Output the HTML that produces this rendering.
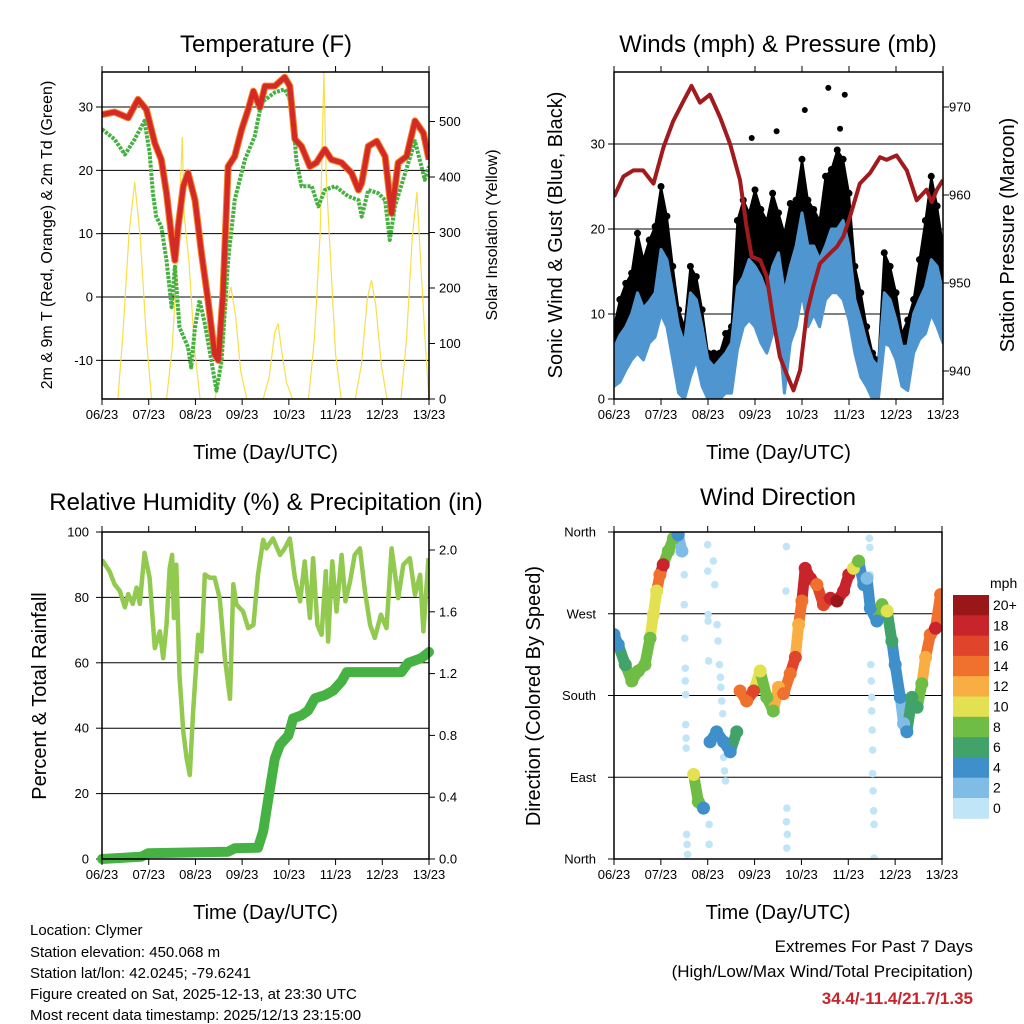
<!DOCTYPE html>
<html><head><meta charset="utf-8"><style>
html,body{margin:0;padding:0;background:#fff;}
svg{display:block;font-family:"Liberation Sans",sans-serif;}
</style></head><body>
<svg id="chart" width="1024" height="1024" viewBox="0 0 1024 1024" xmlns="http://www.w3.org/2000/svg">
<defs>
<clipPath id="c1"><rect x="102" y="72" width="327" height="327"/></clipPath>
<clipPath id="c2"><rect x="614" y="72" width="329" height="327"/></clipPath>
<clipPath id="c3"><rect x="102" y="532" width="327" height="327"/></clipPath>
<clipPath id="c4"><rect x="614" y="532" width="328" height="327"/></clipPath>
</defs>
<g id="g1"></g>
<g id="g2"></g>
<g id="g3"></g>
<g id="g4"></g>
<g font-size="15" fill="#000">
<text x="30" y="935">Location: Clymer</text>
<text x="30" y="957">Station elevation: 450.068 m</text>
<text x="30" y="978">Station lat/lon: 42.0245; -79.6241</text>
<text x="30" y="999">Figure created on Sat, 2025-12-13, at 23:30 UTC</text>
<text x="30" y="1020">Most recent data timestamp: 2025/12/13 23:15:00</text>
</g>
<g text-anchor="end">
<text x="973" y="952" font-size="17">Extremes For Past 7 Days</text>
<text x="973" y="977" font-size="17">(High/Low/Max Wind/Total Precipitation)</text>
<text x="973" y="1004" font-size="17" font-weight="bold" fill="#c8242b">34.4/-11.4/21.7/1.35</text>
</g>
</svg>
<script>
// ---------- data ----------
const dayLabels = ["06/23","07/23","08/23","09/23","10/23","11/23","12/23","13/23"];
const tempTicks = [-10,0,10,20,30];
const solarTicks = [0,100,200,300,400,500];
const windTicks = [0,10,20,30];
const presTicks = [940,950,960,970];
const rhTicks = [0,20,40,60,80,100];
const precipTicks = [0.0,0.4,0.8,1.2,1.6,2.0];
const dirLabels = ["North","East","South","West","North"];
const dirTicks = [0,90,180,270,360];
const speedLabels = ["0","2","4","6","8","10","12","14","16","18","20+"];
const speedColors = ["#bfe5f7","#7fbde6","#3f8fcb","#41a36a","#6fbd44","#e3e051","#f9ae43","#f0712e","#e0442a","#c8242b","#9a1719"];

const tempT = [0,0.27,0.56,0.77,0.95,1.13,1.27,1.38,1.49,1.56,1.63,1.74,1.84,1.99,2.13,2.27,2.41,2.49,2.59,2.70,2.84,2.99,3.13,3.24,3.38,3.49,3.70,3.91,4.02,4.13,4.27,4.45,4.59,4.77,4.91,5.13,5.34,5.49,5.56,5.70,5.88,6.06,6.20,6.34,6.52,6.70,6.88,7.0];
const tempV = [28.8,29.2,28.3,31.2,29.6,24.3,21.7,16.4,9.5,5.8,11,17.5,19.6,15.3,6.9,-0.5,-9,-10,0.5,20.6,22.2,26.5,29.6,32.5,29.9,33.3,33.3,34.7,33.3,24.9,23.8,20.6,21.2,23.3,21.7,21.2,19.6,16.9,18,23.8,24.6,22.2,13.2,21.2,22.2,27.8,25.9,21.7];
const dewT = [0,0.27,0.49,0.70,0.91,1.02,1.09,1.16,1.27,1.38,1.49,1.56,1.66,1.84,1.91,1.99,2.09,2.2,2.34,2.45,2.56,2.7,2.84,3.06,3.27,3.41,3.7,3.91,4.06,4.16,4.27,4.49,4.63,4.77,4.99,5.27,5.49,5.56,5.7,5.91,6.06,6.16,6.27,6.49,6.7,6.91,7.0];
const dewV = [26.5,24.9,22.5,24.9,27.8,22.8,16.4,12.7,11.1,5.8,-1.6,4.8,-4.8,-7.9,-11.1,-4.8,-0.5,-4.2,-10,-14.8,-10,5.8,15.3,21.7,25.4,30.7,32.3,32.8,30.7,21.7,17.5,17.5,14.3,16.9,17.5,15.9,15.3,12.7,16.9,16.4,15.3,9,14.3,19.6,24.6,18.5,20.6];
const solarT = [0,0.34,0.45,0.58,0.70,0.82,0.95,1.06,1.38,1.50,1.62,1.72,1.76,1.86,1.98,2.10,2.42,2.55,2.66,2.76,2.86,2.97,3.10,3.45,3.58,3.70,3.77,3.84,3.95,4.08,4.42,4.55,4.67,4.75,4.80,4.90,5.00,5.12,5.42,5.55,5.68,5.77,5.86,5.98,6.10,6.40,6.52,6.64,6.74,6.82,6.92,7.0];
const solarV = [0,0,120,300,391,290,110,0,0,90,260,472,330,250,90,0,0,60,170,202,150,50,0,0,40,120,136,90,30,0,0,110,300,589,400,240,80,0,0,60,180,214,170,60,0,0,110,290,373,250,100,0];

const windLo = [1.5,2,3.4,4.6,5.4,4.6,6.6,7.3,10,8.5,4.6,0.7,0,2.6,4.6,1.5,0,0,0,0.7,0.7,5.8,8.5,9.3,8.5,6.6,5.4,7.7,8.5,0.7,6.6,8.5,12.5,8.5,10,8.5,11.7,12.5,12.5,11.7,9.3,5.4,2.6,1.5,0,0,6.6,6.2,4.6,1.5,1,5.4,7,7.7,10,8.5,6.6];
const windHi = [6,7.5,8.5,10,12.5,10.7,11.5,12.5,17.6,16.4,12.5,8.5,6.5,12.5,11.7,8.5,4.6,3.8,4.6,5.4,6.6,13.2,14.4,16.4,15.6,14.4,12.5,15.6,17.2,12.5,15.6,18,21.9,18,18,16.4,18,20,20,21,18,11.7,9.3,6.6,4.6,3.8,12.5,11.7,9.3,6.2,6.2,10,11.7,13.2,16.4,15.6,12.5];
const gustHi = [8.5,11.7,13.6,14.8,19.5,16.4,18.7,20.3,25,21.5,15.6,10.5,8.5,15.6,14.4,10.5,5.4,5.4,5.4,7.7,8.5,21,23.4,21.9,24.6,22.3,21,24.2,21.9,19.5,23,23.4,28.2,23.4,22.3,21,26.2,27,29.3,28.2,24.2,15.6,12.5,8.5,5.4,4.6,17.2,15.6,12.5,7.7,9.3,11.7,16.4,21,26.2,22.7,18];
const gustOutT = [2.93,3.46,4.06,4.56,4.91,4.81];
const gustOutV = [30.7,31.5,34,36.6,35.8,31.8];
const presT = [0,0.2,0.41,0.62,0.84,1.05,1.26,1.48,1.65,1.83,2.04,2.26,2.47,2.68,2.82,2.93,3.11,3.25,3.39,3.53,3.67,3.82,3.96,4.1,4.24,4.38,4.6,4.74,4.88,5.02,5.23,5.45,5.66,5.8,6.01,6.23,6.44,6.65,6.76,6.87,7.0];
const presV = [959.8,962.1,962.8,962.8,961.3,965.4,968.4,970.7,972.4,970.5,971.4,968.8,965.8,961.7,956.4,953,952.6,950.7,945.8,941.6,939.7,937.8,940.1,946.5,949.6,952.2,953.4,954.1,955.3,957.5,961.3,962.5,964.3,964,964.5,962.8,959.4,960.6,959.2,960.6,961.7];

const rhT = [0,0.16,0.27,0.38,0.49,0.56,0.66,0.74,0.81,0.91,1.02,1.13,1.24,1.31,1.38,1.45,1.5,1.54,1.59,1.66,1.74,1.81,1.88,1.95,2.06,2.13,2.2,2.31,2.41,2.52,2.63,2.74,2.81,2.88,3.02,3.13,3.24,3.34,3.45,3.52,3.66,3.81,3.91,4.02,4.13,4.24,4.34,4.45,4.52,4.61,4.7,4.79,4.84,4.93,5.02,5.13,5.21,5.31,5.41,5.52,5.63,5.74,5.84,5.97,6.09,6.2,6.34,6.45,6.59,6.7,6.81,6.88,6.99];
const rhV = [91.5,88,84,82,77,81,78,83,78,93.6,86,64.5,69.6,61.4,71.6,89,93,73.7,90,56,39,30.8,25.7,45,68.6,63.5,87,86,86,79.8,61.4,49,84,77.8,75.7,70.6,71.6,87,97.6,95,98,93,95,98,86,78.8,91,73.7,92,71.6,68.6,88,66.5,91,75.7,93,78.8,84.9,93,95,81.8,71.6,67.6,74.7,70.6,95,79.8,90,92,80.8,86.9,69.6,92];
const prT = [0,0.84,0.99,2.7,2.84,3.34,3.45,3.56,3.7,3.81,3.99,4.09,4.27,4.41,4.56,4.77,4.95,5.13,5.24,5.56,6.41,6.56,6.84,7.0];
const prV = [0,0.015,0.037,0.047,0.069,0.073,0.18,0.39,0.65,0.74,0.80,0.91,0.93,0.96,1.04,1.06,1.09,1.15,1.21,1.21,1.21,1.27,1.30,1.34];

const dirT = [0,0.09,0.24,0.38,0.52,0.66,0.77,0.84,0.91,0.98,1.05,1.16,1.27,1.37,1.45,1.7,1.8,1.91,2.05,2.19,2.34,2.48,2.62,2.69,2.83,2.98,3.12,3.26,3.4,3.51,3.62,3.76,3.87,3.94,4.01,4.08,4.19,4.33,4.47,4.62,4.76,4.9,5.01,5.11,5.22,5.33,5.4,5.47,5.61,5.72,5.83,5.93,6.0,6.11,6.18,6.25,6.36,6.47,6.57,6.65,6.75,6.86,6.97];
const dirV = [247,236,214,196,207,214,243,269,295,313,324,339,353,357,339,93,63,56,129,140,129,118,140,185,174,185,207,178,163,189,182,204,222,258,284,320,309,302,280,287,284,295,313,320,328,302,309,276,262,280,273,240,214,178,149,140,178,167,193,222,247,254,291];
const dirS = [4,4,6,7,8,8,8,9,10,13,18,8,7,3,2,9,7,4,3,3,3,3,5,13,14,16,9,8,7,12,14,14,16,12,13,18,18,14,16,18,20,17,17,10,8,3,2,4,4,8,9,5,4,4,2,3,6,6,8,12,14,18,14];
const dirSeg = [0,0,0,0,0,0,0,0,0,0,0,0,0,0,0,1,1,1,2,2,2,2,2,3,3,3,3,3,3,3,3,3,3,3,3,3,3,3,3,3,3,3,3,3,3,3,3,3,3,3,3,3,3,3,3,3,3,3,3,3,3,3,3];
const calmT = [1.5,1.5,1.51,1.52,1.52,1.53,1.53,1.54,1.54,1.55,1.56,1.57,2.0,2.0,2.01,2.01,2.02,2.03,2.03,2.12,2.15,2.2,2.22,2.25,2.27,2.28,2.3,2.32,2.34,2.36,2.38,3.68,3.67,3.69,3.68,3.7,3.69,5.45,5.46,5.47,5.48,5.49,5.5,5.5,5.51,5.52,5.52,5.53,5.54,5.55,5.55];
const calmV = [313,280,243,210,196,181,148,133,122,27,16,5,346,317,269,262,218,38,16,328,302,258,240,214,200,189,174,160,112,97,86,344,295,56,41,27,12,353,343,313,214,196,178,163,142,120,94,75,53,38,1];

// ---------- helpers ----------
const NS = "http://www.w3.org/2000/svg";
function mk(parent, tag, attrs, text) {
  const e = document.createElementNS(NS, tag);
  for (const k in attrs) e.setAttribute(k, attrs[k]);
  if (text !== undefined) e.textContent = text;
  parent.appendChild(e);
  return e;
}
function xScale(x0, x1) { return t => x0 + (x1 - x0) * t / 7; }
function lin(d0, d1, r0, r1) { return v => r0 + (v - d0) * (r1 - r0) / (d1 - d0); }
function pathD(ts, vs, xs, ys) { return ts.map((t, i) => (i ? "L" : "M") + xs(t).toFixed(1) + "," + ys(vs[i]).toFixed(1)).join(""); }

function frame(g, x0, y0, x1, y1, xs) {
  const b = mk(g, "rect", {x: x0, y: y0, width: x1 - x0, height: y1 - y0, fill: "none", stroke: "#000", "stroke-width": 1.5});
  
  
  dayLabels.forEach((lab, i) => {
    const x = xs(i);
    mk(g, "line", {x1: x, x2: x, y1: y1, y2: y1 + 6, stroke: "#000"});
    mk(g, "line", {x1: x, x2: x, y1: y0, y2: y0 - 6, stroke: "#000"});
    const t = mk(g, "text", {x: x, y: y1 + 20, "text-anchor": "middle", "font-size": 13}, lab);
    
    
  });
  const xl = mk(g, "text", {x: (x0 + x1) / 2, y: y1 + 60, "text-anchor": "middle", "font-size": 20}, "Time (Day/UTC)");
  
  
}
function leftTicks(g, ticks, ys, x0, x1, labelX, grid, fmt) {
  ticks.forEach(v => {
    const y = ys(v);
    mk(g, "line", {x1: x0 - 6, x2: x0, y1: y, y2: y, stroke: "#000"});
    if (grid) mk(g, "line", {x1: x0, x2: x1, y1: y, y2: y, stroke: "#000", "stroke-width": 1});
    const t = mk(g, "text", {x: labelX, y: y + 4.5, "text-anchor": "end", "font-size": 13}, fmt ? fmt(v) : v);
    
    
  });
}
function rightTicks(g, ticks, ys, x1, labelX, fmt) {
  ticks.forEach(v => {
    const y = ys(v);
    mk(g, "line", {x1: x1, x2: x1 + 6, y1: y, y2: y, stroke: "#000"});
    const t = mk(g, "text", {x: labelX, y: y + 4.5, "font-size": 13}, fmt ? fmt(v) : v);
    
    
  });
}
function title(g, x, y, txt, size) {
  const t = mk(g, "text", {x: x, y: y, "text-anchor": "middle", "font-size": size || 24}, txt);
  
  
}
function vlabel(g, x, y, txt, size, name) {
  const t = mk(g, "text", {x: x, y: y, "text-anchor": "middle", "font-size": size, transform: "rotate(-90 " + x + " " + y + ")"}, txt);
  
  
}

// ---------- panel 1: temperature ----------
(function () {
  const g = document.getElementById("g1");
  const xs = xScale(102, 429), ty = lin(0, 30, 297, 107), sy = lin(0, 500, 399, 121.5);
  title(g, 266, 52, "Temperature (F)");
  vlabel(g, 52, 235, "2m & 9m T (Red, Orange) & 2m Td (Green)", 16, "left-y-axis-title");
  vlabel(g, 497, 235, "Solar Insolation (Yellow)", 16, "right-y-axis-title");
  leftTicks(g, tempTicks, ty, 102, 429, 93, true);
  rightTicks(g, solarTicks, sy, 429, 439);
  const c = mk(g, "g", {"clip-path": "url(#c1)"});
  const s = mk(c, "path", {d: pathD(solarT, solarV, xs, sy), fill: "none", stroke: "#f7df4a", "stroke-width": 1.2});
  
  
  const o = mk(c, "path", {d: pathD(tempT, tempV, xs, ty), fill: "none", stroke: "#f4802a", "stroke-width": 7, "stroke-linejoin": "round"});
  
  
  const d = mk(c, "path", {d: pathD(dewT, dewV, xs, ty), fill: "none", stroke: "#46b040", "stroke-width": 4, "stroke-dasharray": "3 1.2", "stroke-linejoin": "round"});
  
  
  const r = mk(c, "path", {d: pathD(tempT, tempV, xs, ty), fill: "none", stroke: "#d42a25", "stroke-width": 5, "stroke-linejoin": "round"});
  
  
  frame(g, 102, 72, 429, 399, xs);
})();

// ---------- panel 2: winds & pressure ----------
(function () {
  const g = document.getElementById("g2");
  const xs = xScale(614, 943), wy = lin(0, 10, 399, 314), py = lin(940, 950, 371, 283);
  title(g, 778, 52, "Winds (mph) & Pressure (mb)");
  vlabel(g, 562, 235, "Sonic Wind & Gust (Blue, Black)", 20, "left-y-axis-title");
  vlabel(g, 1014, 235, "Station Pressure (Maroon)", 20, "right-y-axis-title");
  leftTicks(g, windTicks, wy, 614, 943, 605, true);
  rightTicks(g, presTicks, py, 943, 949);
  const c = mk(g, "g", {"clip-path": "url(#c2)"});
  const wt = windLo.map((v, i) => i / 8);
  let gd = "M" + wt.map((t, i) => xs(t).toFixed(1) + "," + wy(gustHi[i]).toFixed(1)).join("L");
  gd += "L" + wt.slice().reverse().map((t, j) => { const i = wt.length - 1 - j; return xs(t).toFixed(1) + "," + wy(windLo[i]).toFixed(1); }).join("L") + "Z";
  const gb = mk(c, "path", {d: gd, fill: "#000", stroke: "#000", "stroke-width": 2, "stroke-linejoin": "round"});
  
  
  wt.forEach((t, i) => {
    const dot = mk(c, "circle", {cx: xs(t), cy: wy(gustHi[i]), r: 3.5, fill: "#000"});
    
    
  });
  gustOutT.forEach((t, i) => {
    const dot = mk(c, "circle", {cx: xs(t), cy: wy(gustOutV[i]), r: 3, fill: "#000"});
    
    
  });
  let bd = "M" + wt.map((t, i) => xs(t).toFixed(1) + "," + wy(windHi[i]).toFixed(1)).join("L");
  bd += "L" + wt.slice().reverse().map((t, j) => { const i = wt.length - 1 - j; return xs(t).toFixed(1) + "," + wy(windLo[i]).toFixed(1); }).join("L") + "Z";
  const bb = mk(c, "path", {d: bd, fill: "#4f95d0", stroke: "#4f95d0", "stroke-width": 3, "stroke-linejoin": "round"});
  
  
  const p = mk(c, "path", {d: pathD(presT, presV, xs, py), fill: "none", stroke: "#a01a1e", "stroke-width": 4, "stroke-linejoin": "round"});
  
  
  frame(g, 614, 72, 943, 399, xs);
})();

// ---------- panel 3: RH & precip ----------
(function () {
  const g = document.getElementById("g3");
  const xs = xScale(102, 429), ry = lin(0, 100, 859, 532), qy = lin(0, 2, 859, 550);
  title(g, 266, 510, "Relative Humidity (%) & Precipitation (in)");
  vlabel(g, 46, 696, "Percent & Total Rainfall", 20, "left-y-axis-title");
  leftTicks(g, rhTicks, ry, 102, 429, 89, true);
  rightTicks(g, precipTicks, qy, 429, 439, v => v.toFixed(1));
  const c = mk(g, "g", {"clip-path": "url(#c3)"});
  const rh = mk(c, "path", {d: pathD(rhT, rhV, xs, ry), fill: "none", stroke: "#92c94f", "stroke-width": 4.5, "stroke-linejoin": "round"});
  
  
  const pr = mk(g, "path", {d: pathD(prT, prV, xs, qy), fill: "none", stroke: "#47b244", "stroke-width": 10, "stroke-linejoin": "round", "stroke-linecap": "round"});
  
  
  frame(g, 102, 532, 429, 859, xs);
})();

// ---------- panel 4: wind direction ----------
(function () {
  const g = document.getElementById("g4");
  const xs = xScale(614, 942), dy = lin(0, 360, 859, 532);
  const col = s => speedColors[Math.min(10, Math.max(0, Math.round(s / 2)))];
  title(g, 778, 505, "Wind Direction");
  vlabel(g, 540, 696, "Direction (Colored By Speed)", 20, "left-y-axis-title");
  dirTicks.forEach((v, i) => {
    const y = dy(v);
    mk(g, "line", {x1: 608, x2: 614, y1: y, y2: y, stroke: "#000"});
    if (i > 0 && i < 4) mk(g, "line", {x1: 614, x2: 942, y1: y, y2: y, stroke: "#000"});
    const t = mk(g, "text", {x: 596, y: y + 4.5, "text-anchor": "end", "font-size": 13}, dirLabels[i]);
    
    
  });
  const c = mk(g, "g", {"clip-path": "url(#c4)"});
  calmT.forEach((t, i) => {
    const p = mk(c, "circle", {cx: xs(t), cy: dy(calmV[i]), r: 3.8, fill: speedColors[0]});
    
    
  });
  dirT.forEach((t, i) => {
    if (i > 0 && dirSeg[i] === dirSeg[i - 1]) {
      const l = mk(c, "line", {x1: xs(dirT[i - 1]), y1: dy(dirV[i - 1]), x2: xs(t), y2: dy(dirV[i]), stroke: col(dirS[i]), "stroke-width": 11, "stroke-linecap": "round"});
      
      
    }
  });
  dirT.forEach((t, i) => {
    const p = mk(c, "circle", {cx: xs(t), cy: dy(dirV[i]), r: 6.5, fill: col(dirS[i])});
    
    
  });
  frame(g, 614, 532, 942, 859, xs);
  const lg = mk(g, "g", {});
  
  
  const mt = mk(lg, "text", {x: 990, y: 588, "font-size": 14}, "mph");
  
  
  const top = 595, h = 20.3;
  speedLabels.forEach((lab, j) => {
    const k = speedLabels.length - 1 - j;
    const sw = mk(lg, "rect", {x: 953, y: top + j * h, width: 36, height: h + 0.5, fill: speedColors[k]});
    
    
    const t = mk(lg, "text", {x: 993, y: top + j * h + 15, "font-size": 14}, speedLabels[k]);
    
    
  });
})();
</script>
</body></html>
